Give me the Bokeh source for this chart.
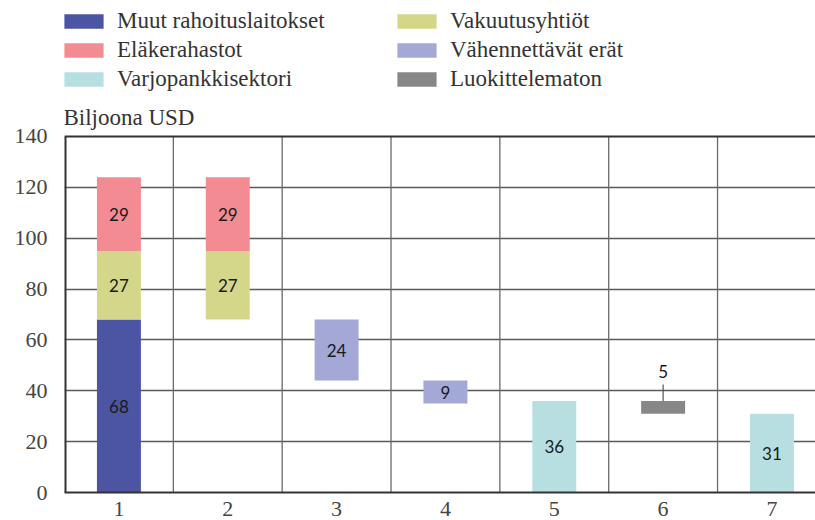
from bokeh.plotting import figure
from bokeh.models import (Range1d, FixedTicker, Legend, LegendItem, Label,
                          ColumnDataSource)
from bokeh.core.properties import value
from bokeh.embed import file_html
from bokeh.resources import INLINE

# ---------------- data ----------------
categories = ["1", "2", "3", "4", "5", "6", "7"]
y_ticks = [0, 20, 40, 60, 80, 100, 120, 140]
y_label = "Biljoona USD"

muut_rahoitus = 68          # category 1
vakuutus = 27               # categories 1, 2
elake = 29                  # categories 1, 2
vahennettavat = [24, 9]     # categories 3, 4
varjopankki = [36, 31]      # categories 5, 7
luokittelematon = 5         # category 6

names = {
    "muut": "Muut rahoituslaitokset",
    "vak": "Vakuutusyhtiöt",
    "elake": "Eläkerahastot",
    "vah": "Vähennettävät erät",
    "varjo": "Varjopankkisektori",
    "luok": "Luokittelematon",
}
colors = {
    "muut": "#4B55A2",
    "elake": "#F28C92",
    "varjo": "#B7DFE1",
    "vak": "#D4D78A",
    "vah": "#A4A8D6",
    "luok": "#878787",
}

# ---------------- waterfall geometry from values ----------------
base2 = muut_rahoitus
bars = {k: dict(x=[], bottom=[], top=[], val=[]) for k in names}

def add(key, x, b, t, v):
    bars[key]["x"].append(x); bars[key]["bottom"].append(b)
    bars[key]["top"].append(t); bars[key]["val"].append(v)

add("muut", 1, 0, muut_rahoitus, muut_rahoitus)
add("vak", 1, muut_rahoitus, muut_rahoitus + vakuutus, vakuutus)
add("elake", 1, muut_rahoitus + vakuutus, muut_rahoitus + vakuutus + elake, elake)
add("vak", 2, base2, base2 + vakuutus, vakuutus)
add("elake", 2, base2 + vakuutus, base2 + vakuutus + elake, elake)
level = base2
add("vah", 3, level - vahennettavat[0], level, vahennettavat[0])
level -= vahennettavat[0]
add("vah", 4, level - vahennettavat[1], level, vahennettavat[1])
add("varjo", 5, 0, varjopankki[0], varjopankki[0])
add("luok", 6, varjopankki[0] - luokittelematon, varjopankki[0], luokittelematon)
add("varjo", 7, 0, varjopankki[1], varjopankki[1])

# ---------------- figure ----------------
# frame covers the whole upper area; the value axis itself runs 0..140
y_top = y_ticks[-1]
x_start, x_end = 0.5, 7.40
p = figure(width=815, height=520, output_backend="svg", toolbar_location=None,
           x_range=Range1d(x_start, x_end), y_range=Range1d(0, y_top * 1.382),
           min_border_left=64, min_border_right=0, min_border_top=0,
           min_border_bottom=28)
p.title.visible = False
p.outline_line_color = None
p.background_fill_color = "white"
p.border_fill_color = "white"

# grids (only 20..120 horizontally; vertical separators drawn as segments)
p.xgrid.visible = False
p.ygrid.ticker = FixedTicker(ticks=y_ticks[1:-1])
p.ygrid.grid_line_color = "#5a5a5a"
p.ygrid.grid_line_width = 1.3

bounds = [i + 1.5 for i in range(len(categories) - 1)]
p.segment(x0=bounds, x1=bounds, y0=[0] * len(bounds), y1=[y_top] * len(bounds),
          line_color="#6a6a6a", line_width=1.3)
# frame borders: top and left
p.segment(x0=[x_start], x1=[x_end], y0=[y_top], y1=[y_top],
          line_color="#333333", line_width=2)
p.segment(x0=[x_start], x1=[x_start], y0=[0], y1=[y_top],
          line_color="#333333", line_width=4)

renderers = {}
for key in names:
    src = ColumnDataSource(bars[key])
    renderers[key] = p.vbar(x="x", bottom="bottom", top="top", width=0.404,
                            source=src, fill_color=colors[key], line_color=None)
    src_lbl = ColumnDataSource(dict(
        x=bars[key]["x"],
        y=[(b + t) / 2 for b, t in zip(bars[key]["bottom"], bars[key]["top"])],
        t=[str(v) for v in bars[key]["val"]]))
    if key != "luok":
        p.text(x="x", y="y", text="t", source=src_lbl, text_align="center",
               text_baseline="middle", text_font=value("Lato"),
               text_font_size="17px", text_color="#1a1a1a")

# label for the small grey bar, above it with a leader line
lk = bars["luok"]
p.segment(x0=lk["x"], x1=lk["x"], y0=lk["top"], y1=[t + 6.5 for t in lk["top"]],
          line_color="#555555", line_width=1.2)
p.text(x=lk["x"], y=lk["top"], text=[str(v) for v in lk["val"]],
       y_offset=-29, text_align="center", text_baseline="middle",
       text_font=value("Lato"), text_font_size="17px", text_color="#1a1a1a")

# axes
p.xaxis.ticker = FixedTicker(ticks=list(range(1, len(categories) + 1)))
p.xaxis.major_label_overrides = {i + 1: c for i, c in enumerate(categories)}
p.yaxis.ticker = FixedTicker(ticks=y_ticks)
for ax in (p.xaxis[0], p.yaxis[0]):
    ax.axis_line_color = "#333333"
    ax.axis_line_width = 2
    ax.major_tick_out = 0
    ax.major_tick_in = 0
    ax.minor_tick_out = 0
    ax.minor_tick_in = 0
    ax.major_label_text_font = "Liberation Serif"
    ax.major_label_text_font_size = "22px"
    ax.major_label_text_color = "#444444"
p.yaxis.axis_line_color = None
p.yaxis.major_label_standoff = 17
p.xaxis.major_label_standoff = 9

# title label
p.add_layout(Label(x=-1, y=375, x_units="screen", y_units="screen", text=y_label,
                   text_font="Liberation Serif", text_font_size="23px",
                   text_color="#333333", text_baseline="middle"))

# legend
order = ["muut", "vak", "elake", "vah", "varjo", "luok"]
legend = Legend(items=[LegendItem(label=names[k], renderers=[renderers[k]]) for k in order],
                location=(-5, 400), orientation="horizontal", ncols=2,
                label_text_font="Liberation Serif", label_text_font_size="23px",
                label_text_color="#333333", glyph_width=49, glyph_height=18,
                label_height=22, label_width=272, label_standoff=9, spacing=3,
                padding=0, margin=0, border_line_color=None,
                background_fill_alpha=0)
p.add_layout(legend, "center")

open("out.html", "w").write(file_html(p, INLINE))
